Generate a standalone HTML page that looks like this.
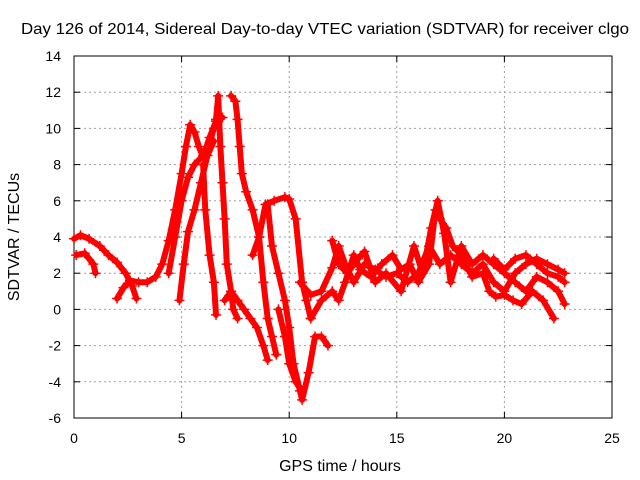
<!DOCTYPE html>
<html><head><meta charset="utf-8"><style>
html,body{margin:0;padding:0;background:#fff}
svg{display:block;font-family:"Liberation Sans",sans-serif}
</style></head><body>
<svg id="chart" width="640" height="480">
<text x="325" y="34" text-anchor="middle" font-size="16" textLength="608" lengthAdjust="spacingAndGlyphs" fill="#000">Day 126 of 2014, Sidereal Day-to-day VTEC variation (SDTVAR) for receiver clgo</text>
<g id="grid"></g>
<g id="axes"></g>
<g id="series"></g>
<text x="340" y="471" text-anchor="middle" font-size="16">GPS time / hours</text>
<text transform="translate(19,237) rotate(-90)" text-anchor="middle" font-size="16">SDTVAR / TECUs</text>
</svg>
<script>
const xTicks=[0,5,10,15,20,25];
const yTicks=[-6,-4,-2,0,2,4,6,8,10,12,14];
const trace1=[[0,3.9],[0.3,4.1],[0.7,3.9],[1.2,3.5],[1.6,3.0],[2.0,2.6],[2.4,2.0],[2.7,1.3],[2.9,0.6]];
const trace2=[[0.1,3.0],[0.5,3.1],[0.9,2.5],[1.0,2.0]];
const trace3=[[2.0,0.6],[2.3,1.2],[2.6,1.6],[3.0,1.5],[3.4,1.5],[3.8,1.8],[4.1,2.5],[4.4,3.8],[4.7,5.5],[5.0,7.5],[5.2,9.0],[5.4,10.2],[5.6,9.8],[5.8,9.0],[6.0,8.4],[6.3,9.5],[6.6,10.4],[6.9,10.6]];
const trace4=[[4.4,2],[4.7,4],[5.0,6],[5.3,7.3],[5.6,8],[6.0,8.5],[6.3,9.2],[6.5,10]];
const trace5=[[4.9,0.5],[5.1,2.5],[5.3,4.3],[5.6,5.5],[5.9,7.0],[6.2,8.5],[6.5,9.3]];
const trace6=[[6.6,10.5],[6.7,11.8],[6.8,9],[6.9,7],[7.0,5],[7.1,2.5],[7.3,1],[7.4,0],[7.6,-0.5]];
const trace7=[[6.0,8],[6.1,5.5],[6.3,3],[6.5,1.5],[6.6,-0.3]];
const trace8=[[7.3,11.8],[7.5,11.5],[7.6,10.5],[7.7,9],[7.8,7.5],[8.0,6.5],[8.3,5.5],[8.6,4],[8.8,1.5],[9.0,-0.5],[9.2,-1.5],[9.4,-2.5]];
const trace9=[[7.0,0.5],[7.3,1],[7.6,0.5],[7.9,0],[8.2,-0.5],[8.5,-1],[8.8,-2],[9.0,-2.8]];
const trace10=[[8.3,3],[8.6,4],[8.9,5.8],[9.3,6.0],[9.8,6.2],[10.0,6.1],[10.3,5],[10.6,1.5],[10.8,0.5],[11.0,-0.5]];
const trace11=[[9.0,5.8],[9.2,3.5],[9.5,2],[9.8,0.5],[10.0,-1],[10.2,-3],[10.5,-4.5],[10.6,-5],[10.9,-3.5],[11.2,-1.5],[11.5,-1.5],[11.8,-2]];
const trace12=[[9.5,0],[9.8,-1.5],[10.0,-3],[10.3,-4],[10.6,-4.5]];
const trace13=[[10.5,1.5],[11.0,0.8],[11.5,1.0],[12.0,2.3],[12.3,3.5],[12.6,2.5],[13.0,1.5],[13.5,2.5],[14.0,2.2],[14.5,1.8],[15.0,2.0],[15.5,1.5],[16.0,2.0],[16.5,3.5],[17.0,2.5],[17.5,3.0],[18.0,2.5],[18.5,2.0],[19.0,2.5],[19.5,1.5],[20.0,1.0],[20.5,2.0],[21.0,2.5],[21.5,2.8],[22.0,2.5],[22.5,2.2],[22.8,2.0]];
const trace14=[[11.0,-0.5],[11.5,0.5],[12.0,1.0],[12.3,0.5],[12.6,1.5],[13.0,3.0],[13.3,2.2],[13.8,1.8],[14.3,2.5],[14.8,3.0],[15.2,2.2],[15.6,2.5],[16.0,1.5],[16.5,2.5],[16.8,5.5],[17.0,5.0],[17.3,4.5],[17.6,3.5],[18.0,3.0],[18.5,1.8],[19.0,2.0],[19.3,1.0],[19.6,0.7],[20.0,0.8],[20.4,0.5],[20.8,0.3],[21.3,1.0],[21.8,0.5],[22.3,-0.5]];
const trace15=[[12.0,3.8],[12.3,2.5],[12.7,2.0],[13.2,2.8],[13.5,3.2],[14.0,1.5],[14.5,2.0],[15.2,1.0],[15.8,3.5],[16.2,2.0],[16.6,4.5],[16.9,6.0],[17.2,4.2],[17.5,1.5],[18.0,3.5],[18.5,2.5],[19.0,3.0],[19.5,2.5],[20.0,2.0],[20.5,1.5],[21.0,1.0],[21.5,1.8],[22.0,1.5],[22.5,1.0],[22.8,0.3]];
const trace16=[[19.5,2.8],[20.0,2.2],[20.5,2.8],[21.0,3.0],[21.5,2.5],[22.0,2.0],[22.5,1.8],[22.8,1.5]];
const traces=[trace1,trace2,trace3,trace4,trace5,trace6,trace7,trace8,trace9,trace10,trace11,trace12,trace13,trace14,trace15,trace16];

const L=74,R=612,T=56,B=418;
const xs=v=>L+(v-0)/25*(R-L);
const ys=v=>B-(v+6)/20*(B-T);
const NS="http://www.w3.org/2000/svg";
function mk(tag,attrs,parent){const e=document.createElementNS(NS,tag);for(const k in attrs)e.setAttribute(k,attrs[k]);parent.appendChild(e);return e;}
const grid=document.getElementById('grid'),axes=document.getElementById('axes'),ser=document.getElementById('series');
xTicks.forEach(t=>{
  const x=xs(t);
  if(t>0&&t<25){const g=mk('line',{x1:x,x2:x,y1:T,y2:B,stroke:'#a0a0a0','stroke-dasharray':'2,3'},grid);
  
  }
  const lb=mk('text',{x:x,y:B+25,'text-anchor':'middle','font-size':14},axes);lb.textContent=t;
  
  
  mk('line',{x1:x,x2:x,y1:B,y2:B-6,stroke:'#000'},axes);
  mk('line',{x1:x,x2:x,y1:T,y2:T+6,stroke:'#000'},axes);
});
yTicks.forEach(t=>{
  const y=ys(t);
  if(t>-6&&t<14){const g=mk('line',{x1:L,x2:R,y1:y,y2:y,stroke:'#a0a0a0','stroke-dasharray':'2,3'},grid);
  
  }
  const lb=mk('text',{x:L-13,y:y+5,'text-anchor':'end','font-size':14},axes);lb.textContent=t;
  
  
  mk('line',{x1:L,x2:L+6,y1:y,y2:y,stroke:'#000'},axes);
  mk('line',{x1:R,x2:R-6,y1:y,y2:y,stroke:'#000'},axes);
});
const frame=mk('rect',{x:L,y:T,width:R-L,height:B-T,fill:'none',stroke:'#000'},axes);


traces.forEach((tr,i)=>{
  const pl=mk('polyline',{points:tr.map(p=>xs(p[0])+','+ys(p[1])).join(' '),fill:'none',stroke:'#ff0000','stroke-width':6,'stroke-linejoin':'round','stroke-linecap':'round'},ser);
  
  
  tr.forEach(p=>{
    const x=xs(p[0]),y=ys(p[1]);
    const m=mk('path',{d:`M${x-5},${y}H${x+5}M${x},${y-5}V${y+5}`,stroke:'#ff0000','stroke-width':1.5},ser);
    
    
  });
});
</script>
</body></html>
